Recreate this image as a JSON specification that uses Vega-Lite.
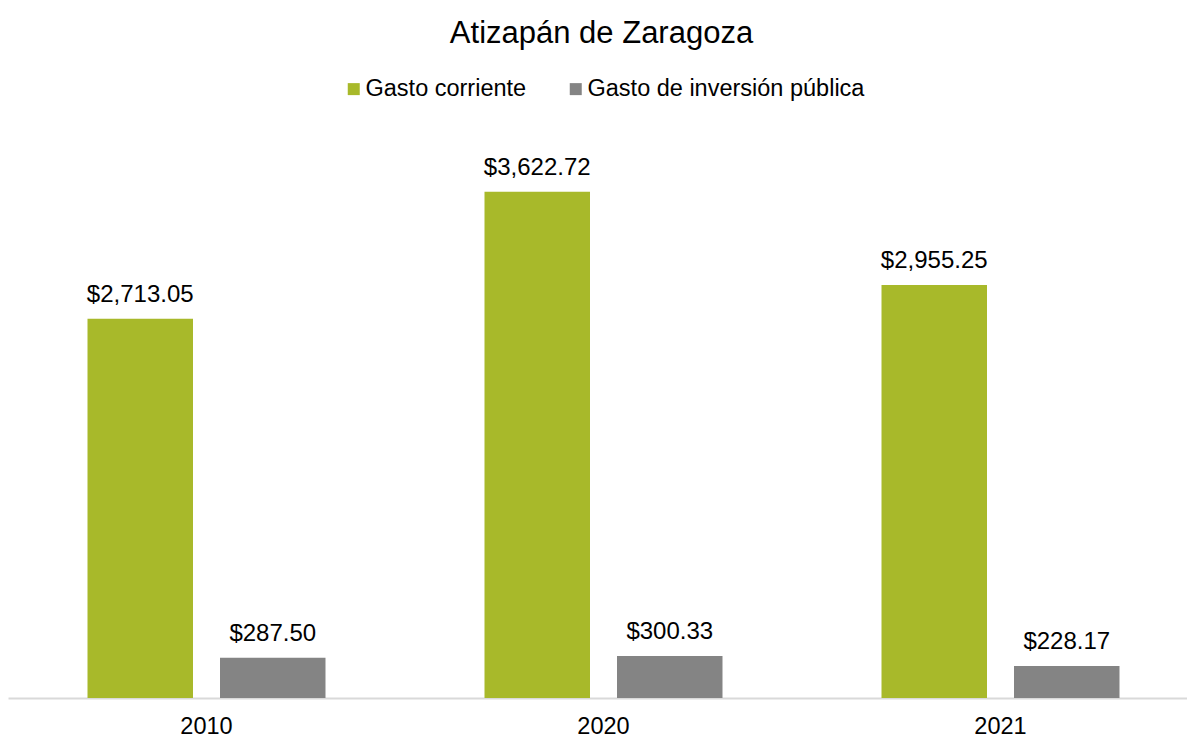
{
  "$schema": "https://vega.github.io/schema/vega-lite/v6.json",
  "autosize": "none",
  "width": 1179,
  "height": 559,
  "padding": {"left": 8, "top": 139, "right": 0, "bottom": 40},
  "background": "white",
  "title": {
    "text": "Atizapán de Zaragoza",
    "anchor": "middle",
    "frame": "group",
    "orient": "top",
    "baseline": "alphabetic",
    "offset": 3,
    "dx": 4,
    "font": "Liberation Sans",
    "fontSize": 31,
    "fontWeight": "normal",
    "color": "#000000"
  },
  "data": {
    "values": [
      {"year": "2010", "serie": "Gasto corriente", "valor": 2713.05},
      {"year": "2010", "serie": "Gasto de inversión pública", "valor": 287.50},
      {"year": "2020", "serie": "Gasto corriente", "valor": 3622.72},
      {"year": "2020", "serie": "Gasto de inversión pública", "valor": 300.33},
      {"year": "2021", "serie": "Gasto corriente", "valor": 2955.25},
      {"year": "2021", "serie": "Gasto de inversión pública", "valor": 228.17}
    ]
  },
  "encoding": {
    "x": {
      "field": "year",
      "type": "nominal",
      "scale": {"range": [0, 1191], "paddingInner": 0, "paddingOuter": 0},
      "axis": {
        "title": null,
        "labelAngle": 0,
        "ticks": false,
        "grid": false,
        "domainColor": "#D9D9D9",
        "domainWidth": 2,
        "labelFont": "Liberation Sans",
        "labelFontSize": 23.5,
        "labelColor": "#000000",
        "labelBaseline": "alphabetic",
        "labelPadding": 35
      }
    },
    "xOffset": {
      "field": "serie",
      "type": "nominal",
      "scale": {"paddingInner": 0.2038, "paddingOuter": 0.6}
    },
    "y": {
      "field": "valor",
      "type": "quantitative",
      "scale": {"domain": [0, 4000], "nice": false},
      "axis": null
    }
  },
  "layer": [
    {
      "mark": {"type": "bar"},
      "encoding": {
        "color": {
          "field": "serie",
          "type": "nominal",
          "scale": {
            "domain": ["Gasto corriente", "Gasto de inversión pública"],
            "range": ["#A8B92A", "#848484"]
          },
          "legend": {
            "title": null,
            "orient": "none",
            "direction": "horizontal",
            "legendX": 334,
            "legendY": -62,
            "symbolType": "square",
            "symbolSize": 144,
            "symbolStrokeWidth": 0,
            "labelOffset": 0,
            "labelLimit": 0,
            "columnPadding": 37,
            "labelFont": "Liberation Sans",
            "labelFontSize": 23.5,
            "labelColor": "#000000",
            "padding": 0
          }
        }
      }
    },
    {
      "mark": {
        "type": "text",
        "baseline": "alphabetic",
        "dy": -17,
        "font": "Liberation Sans",
        "fontSize": 24,
        "color": "#000000"
      },
      "encoding": {
        "text": {"field": "valor", "type": "quantitative", "format": "$,.2f"}
      }
    }
  ],
  "config": {
    "view": {"stroke": null}
  }
}
